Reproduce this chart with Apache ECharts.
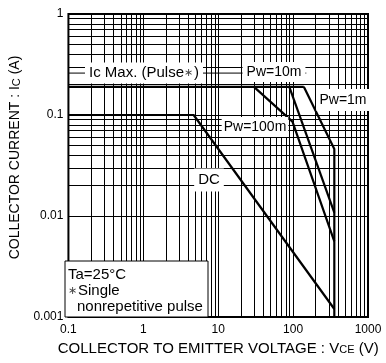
<!DOCTYPE html>
<html>
<head>
<meta charset="utf-8">
<script src="https://cdn.jsdelivr.net/npm/echarts@6/dist/echarts.min.js"></script>
<style>
  html, body { margin: 0; background: #fff; }
  #soa { width: 386px; height: 363px; }
</style>
</head>
<body>
<div id="soa"></div>
<script>
// tick labels
const xTicks = ['0.1', '1', '10', '100', '1000'];
const yTicks = ['0.001', '0.01', '0.1', '1'];
// safe operating area curves [Vce (V), Ic (A)]
const icMaxPulse = [[0.1, 0.19], [139, 0.19]];
const dcLine = [[0.1, 0.1], [4.7, 0.1], [355, 0.0012]];
const pw100m = [[30, 0.19], [98, 0.086], [355, 0.0056]];
const pw10m = [[89, 0.19], [355, 0.0108]];
const pw1m = [[139, 0.19], [355, 0.046], [355, 0.001]];
const leader = [[0.1, 0.26], [150, 0.26]];
// minor grid multipliers per decade
const mult = [2, 3, 4, 5, 6, 7, 8, 9];
const xDecades = [0.1, 1, 10, 100];
const yDecades = [0.001, 0.01, 0.1];

let gridLines = [];
xDecades.forEach(d => mult.forEach(m => gridLines.push({ xAxis: d * m })));
yDecades.forEach(d => mult.forEach(m => gridLines.push({ yAxis: d * m })));

function tickLabel(list, v) {
  let t = list.find(s => Math.abs(Math.log10(+s) - Math.log10(v)) < 1e-6);
  return t || '';
}

const font = 'Liberation Sans, Arial, sans-serif';
const star = { fontFamily: font, fontSize: 11, fill: '#444', padding: [0, 1, 0, 0] };

function curve(name, data) {
  return {
    name: name,
    type: 'line',
    data: data,
    symbol: 'none',
    z: 5,
    silent: true,
    lineStyle: { color: '#000', width: 2.2 }
  };
}

let option = {
  animation: false,
  backgroundColor: '#fff',
  grid: {
    left: 65, top: 14, right: 18, bottom: 46,
    show: true, borderColor: '#000', borderWidth: 2
  },
  xAxis: {
    type: 'log', logBase: 10, min: 0.1, max: 1000,
    name: 'COLLECTOR TO EMITTER VOLTAGE : V{s|CE} (V)',
    nameLocation: 'middle', nameGap: 19,
    nameTextStyle: { fontFamily: font, fontSize: 15, color: '#000', rich: { s: { fontFamily: font, fontSize: 11, color: '#000', padding: [4, 0, 0, 0] } } },
    axisLine: { show: false },
    axisTick: { show: false },
    axisLabel: { fontFamily: font, fontSize: 12, color: '#000', margin: 7, formatter: v => tickLabel(xTicks, v) },
    splitLine: { show: true, lineStyle: { color: '#000', width: 1 } }
  },
  yAxis: {
    type: 'log', logBase: 10, min: 0.001, max: 1,
    name: 'COLLECTOR CURRENT : I{s|C} (A)',
    nameLocation: 'middle', nameGap: 42,
    nameTextStyle: { fontFamily: font, fontSize: 14, color: '#000', padding: [0, 0, 0, 16], rich: { s: { fontFamily: font, fontSize: 11, color: '#000', padding: [4, 0, 0, 0] } } },
    axisLine: { show: false },
    axisTick: { show: false },
    axisLabel: { fontFamily: font, fontSize: 12, color: '#000', margin: 5, formatter: v => tickLabel(yTicks, v) },
    splitLine: { show: true, lineStyle: { color: '#000', width: 1 } }
  },
  series: [
    {
      name: 'leader',
      type: 'line',
      data: leader,
      symbol: 'none',
      z: 2,
      silent: true,
      lineStyle: { color: '#000', width: 1 },
      markLine: {
        silent: true,
        symbol: 'none',
        label: { show: false },
        lineStyle: { color: '#000', width: 1, type: 'solid' },
        data: gridLines
      }
    },
    curve('Ic Max', icMaxPulse),
    curve('DC', dcLine),
    curve('Pw=100m', pw100m),
    curve('Pw=10m', pw10m),
    curve('Pw=1m', pw1m)
  ],
  graphic: [
    { type: 'text', z: 100, style: { text: 'Ic Max. (Pulse{st|\u2217})', rich: { st: star }, x: 144, y: 73, align: 'center', verticalAlign: 'middle', font: '15px ' + font, fill: '#000', backgroundColor: '#fff', padding: [3, 4] } },
    { type: 'text', z: 100, style: { text: 'Pw=10m', x: 274, y: 72, align: 'center', verticalAlign: 'middle', font: '14px ' + font, fill: '#000', backgroundColor: '#fff', padding: [3, 4] } },
    { type: 'text', z: 100, style: { text: 'Pw=1m', x: 343, y: 100, align: 'center', verticalAlign: 'middle', font: '14px ' + font, fill: '#000', backgroundColor: '#fff', padding: [4, 3] } },
    { type: 'text', z: 100, style: { text: 'Pw=100m', x: 255, y: 127, align: 'center', verticalAlign: 'middle', font: '14px ' + font, fill: '#000', backgroundColor: '#fff', padding: [3, 2] } },
    { type: 'text', z: 100, style: { text: 'DC', x: 209, y: 180, align: 'center', verticalAlign: 'middle', font: '15px ' + font, fill: '#000', backgroundColor: '#fff', padding: [4, 4] } },
    { type: 'rect', z: 100, shape: { x: 65, y: 261, width: 143, height: 56 }, style: { fill: '#fff', stroke: '#000', lineWidth: 1 } },
    { type: 'text', z: 101, style: { text: 'Ta=25\u00B0C', x: 68, y: 275, verticalAlign: 'middle', font: '15px ' + font, fill: '#000' } },
    { type: 'text', z: 101, style: { text: '{st|\u2217}Single', rich: { st: star }, x: 68, y: 291, verticalAlign: 'middle', font: '15px ' + font, fill: '#000' } },
    { type: 'text', z: 101, style: { text: 'nonrepetitive pulse', x: 77, y: 307, verticalAlign: 'middle', font: '15px ' + font, fill: '#000' } }
  ]
};

let myChart_soa = echarts.init(document.getElementById('soa'));
myChart_soa.setOption(option);

window.addEventListener('resize', function () {
  myChart_soa.resize();
}, false);
</script>
</body>
</html>
